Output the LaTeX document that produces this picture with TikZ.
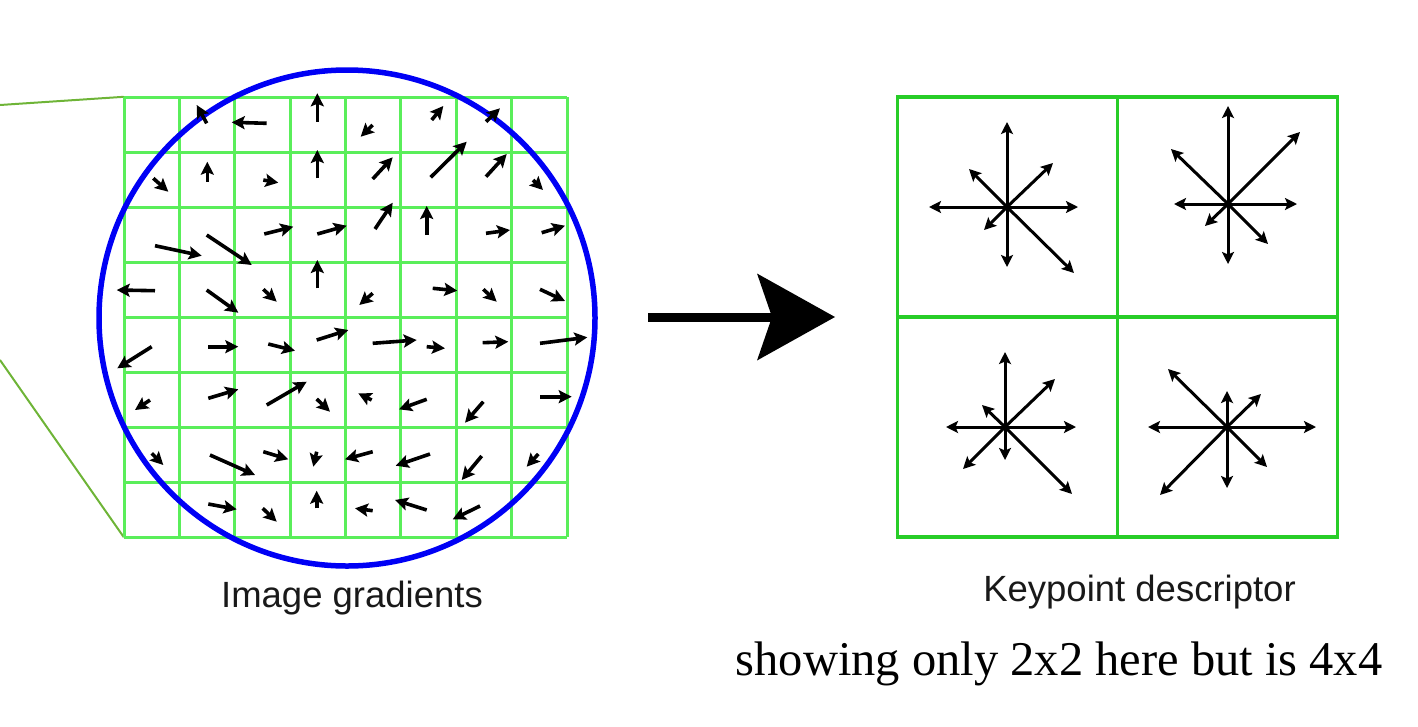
\documentclass[tikz,border=0pt]{standalone}
\usepackage{fontspec}
\setmainfont{Liberation Serif}
\newfontfamily\labelsans{Liberation Sans}
\usetikzlibrary{arrows.meta}
\definecolor{gridgreen}{RGB}{90,238,90}
\definecolor{boxgreen}{RGB}{40,205,40}
\definecolor{olive}{RGB}{110,180,55}
\definecolor{circblue}{RGB}{0,0,245}
\tikzset{
  gridline/.style={gridgreen, line width=3pt},
  boxline/.style={boxgreen, line width=3.4pt},
  zoomline/.style={olive, line width=2pt},
  gradarrow/.style={black, line width=3.6pt, -{Stealth[length=13pt,width=13pt,inset=2.5pt]}},
  stararrow/.style={black, line width=3pt, -{Stealth[length=12pt,width=12pt,inset=2.5pt]}},
  caption/.style={font=\labelsans\fontsize{36.5}{42}\selectfont, anchor=base, inner sep=0pt, text=black!90},
  note/.style={font=\fontsize{48.5}{55}\selectfont, anchor=base, inner sep=0pt}
}
\begin{document}
\begin{tikzpicture}[x=1pt,y=-1pt]
\useasboundingbox (0,0) rectangle (1418,726);
% zoom lines
\coordinate (zt) at (0,105);
\coordinate (zb) at (0,360);
\node[inner sep=0pt, minimum width=443pt, minimum height=440pt] (grid) at (345.5,317) {};
\draw[zoomline] (zt) -- (grid.north west);
\draw[zoomline] (zb) -- (grid.south west);
% grid
\foreach \i in {0,...,8} {
  \draw[gridline] (124+55.375*\i,97) -- (124+55.375*\i,537);
  \draw[gridline] (124,97+55*\i) -- (567,97+55*\i);
}
% circle
\node[draw=circblue, line width=5.5pt, circle, minimum size=496pt, inner sep=0pt] (circ) at (347,318) {};
% gradient arrows
\foreach \xa/\ya/\xb/\yb in {
 206.7/123.3/196.7/105, 266.7/123.3/231.7/122.3, 317.3/121.7/317.3/93.3, 372.7/125/360.7/136.7, 431.7/120/443.3/106, 486/121.7/500/108.3,
 153.3/178.3/168.3/191.7, 207.3/181.7/207.3/161.7, 263.3/180/278.3/182.7, 317.3/178.3/317.3/150, 372.7/179/392.7/157.3, 430.7/177.3/466.7/141.7, 486/176.7/506.7/154, 533/180/543/190,
 155/245.7/201.7/255.7, 206.7/235/251.7/265, 264.3/234/293.3/226.7, 317.3/234/346.7/225.7, 375/229/392.7/202.7, 426.7/235/426.7/206, 486/233.3/510/230, 541.7/232.7/565/225.7,
 155/290.7/116.7/290, 206.7/290/238.3/312.7, 263.3/289.3/276.7/301.7, 317.3/288.3/317.3/260, 372.7/293.3/359.3/305, 432.7/288.3/457.3/290.7, 483.3/289.3/496.7/301.7, 540/289.3/565/301,
 151.7/346.7/117.3/368.3, 208.3/346.7/238.3/346.7, 268.3/344/295/350.7, 316.7/340/348.3/330, 372.7/343.3/416.7/340, 426.7/346.7/445/348.3, 482.7/342.7/508.3/341.7, 540/343.3/587.3/337.3,
 150/400/135/410, 208.3/398.3/238.3/389.3, 266.7/405/306.7/381.7, 316.7/399/330/411.7, 371.7/400/358.3/393.3, 426.7/399.3/399/409.3, 483.3/401.7/465/422.7, 540/396.7/571.7/396.7,
 151.7/453.3/163.3/465, 210/455/255/475, 263.3/451.7/288.3/459.3, 316.7/451.7/313.3/466.7, 372.7/451.7/345/459.3, 430/454/395.7/465.7, 481.7/456/461.7/480, 538.3/454/526.7/466.7,
 208.3/504/236.7/509.3, 262.7/508.3/276.7/521.7, 316.7/508.3/316.7/490.7, 372.7/510.7/355/508.3, 426.7/510/395/500, 480/506/452.7/519.3}
 \draw[gradarrow] (\xa,\ya) -- (\xb,\yb);
% big arrow
\coordinate (arrS) at (648,317);
\coordinate (arrN) at (772,317);
\coordinate (arrT) at (835,317);
\draw[line width=9pt] (arrS) -- (arrN);
\fill[black] (arrT) -- (757,273.5) -- (arrN) -- (757,360.5) -- cycle;
% descriptor
\node[draw=boxgreen, line width=3.4pt, minimum width=440pt, minimum height=440pt, inner sep=0pt] (desc) at (1117.5,317) {};
\draw[boxline] (desc.north) -- (desc.south);
\draw[boxline] (desc.west) -- (desc.east);
\coordinate (s1) at (1007,207);
\coordinate (s2) at (1228,204);
\coordinate (s3) at (1005,427);
\coordinate (s4) at (1227,427);
\foreach \dx/\dy in {0/-85,71/0,-78/0,0/60,46/-44,-38/-38,-23/23,67/66}
  \draw[stararrow] (s1) -- ++(\dx,\dy);
\foreach \dx/\dy in {0/-98,69/0,-54/0,0/60,72/-72,-57/-55,-23/22,40/40}
  \draw[stararrow] (s2) -- ++(\dx,\dy);
\foreach \dx/\dy in {0/-75,71/0,-59/0,0/33,50/-48,-23/-22,-42/42,67/67}
  \draw[stararrow] (s3) -- ++(\dx,\dy);
\foreach \dx/\dy in {0/-36,89/0,-79/0,0/61,34/-33,-59/-58,-67/68,40/40}
  \draw[stararrow] (s4) -- ++(\dx,\dy);
% labels
\node[caption] (lg) at (352,607.3) {Image gradients};
\node[caption] (ld) at (1139.5,601.7) {Keypoint descriptor};
\node[note] (ln) at (1059,675) {showing only 2x2 here but is 4x4};
\end{tikzpicture}
\end{document}
